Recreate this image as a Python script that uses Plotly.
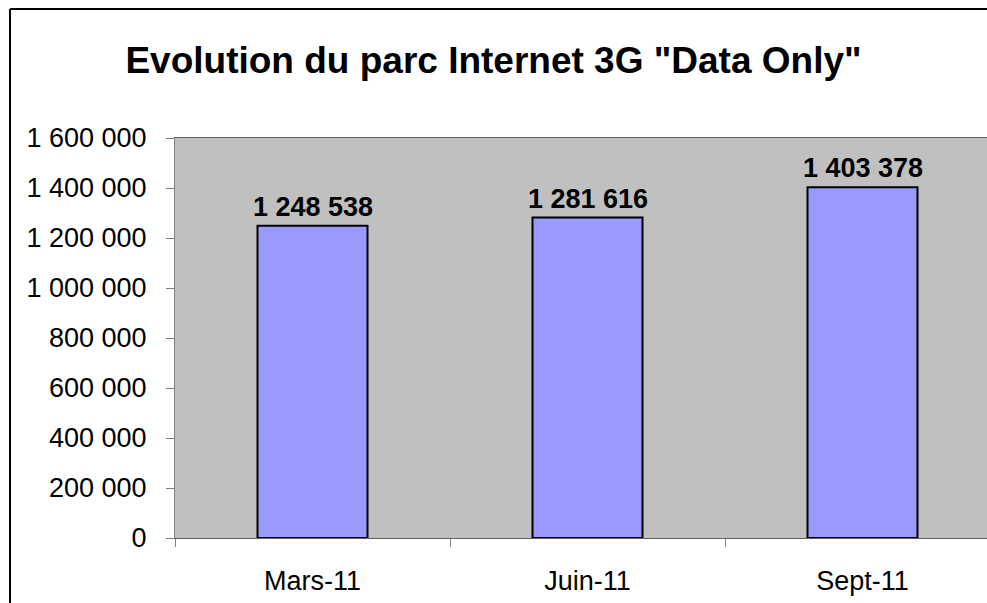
import plotly.graph_objects as go

categories = ["Mars-11", "Juin-11", "Sept-11"]
values = [1248538, 1281616, 1403378]
y_ticks = [0, 200000, 400000, 600000, 800000, 1000000, 1200000, 1400000, 1600000]

W, H = 987, 603
L, T, B = 175, 138, 65
FONT = "Arial, 'Liberation Sans', sans-serif"

def fmt(v):
    return f"{v:,}".replace(",", " ")

fig = go.Figure()
fig.add_trace(go.Bar(
    x=categories, y=values,
    marker=dict(color="#9999FF", line=dict(color="black", width=2)),
    width=0.4, hoverinfo="skip",
))

for c, v in zip(categories, values):
    fig.add_annotation(x=c, y=v, text=fmt(v), showarrow=False,
                       yanchor="middle", yshift=19,
                       font=dict(family=FONT, size=27, color="black", weight="bold"))

# outer chart frame (only left and top edges are visible in the crop)
pw = W - L
ph = H - T - B
fx0 = (10 - L) / pw
fy1 = (H - B - 9) / ph
fig.add_shape(type="line", xref="paper", yref="paper",
              x0=fx0, x1=fx0, y0=-0.3, y1=fy1,
              line=dict(color="black", width=2), layer="above")
fig.add_shape(type="line", xref="paper", yref="paper",
              x0=fx0, x1=1.0, y0=fy1, y1=fy1,
              line=dict(color="black", width=2), layer="above")

fig.update_layout(
    width=W, height=H,
    margin=dict(l=L, r=0, t=T, b=B, pad=0),
    paper_bgcolor="white", plot_bgcolor="#C0C0C0",
    separators=", ",
    showlegend=False,
    title=dict(text='<b>Evolution du parc Internet 3G "Data Only"</b>',
               x=0.5, xref="container", xanchor="center",
               y=1 - 60 / H, yref="container", yanchor="middle",
               font=dict(family=FONT, size=37, color="black")),
    xaxis=dict(range=[-0.5, 2.5 - 13 / 275], tickson="boundaries",
               ticks="outside", ticklen=8, tickcolor="#808080",
               showline=True, linecolor="#606060", linewidth=1, mirror=True,
               showgrid=False, ticklabelstandoff=19,
               tickfont=dict(family=FONT, size=27, color="black")),
    yaxis=dict(range=[0, 1600000], tickvals=y_ticks, tickformat=",d",
               ticks="outside", ticklen=8, tickcolor="#808080",
               showline=True, linecolor="#808080", linewidth=1,
               showgrid=False, zeroline=False, ticklabelstandoff=14,
               tickfont=dict(family=FONT, size=27, color="black")),
)

fig.write_html("out.html", config={"displayModeBar": False},
               post_script="document.body.style.margin='0px';document.body.style.overflow='hidden';")
